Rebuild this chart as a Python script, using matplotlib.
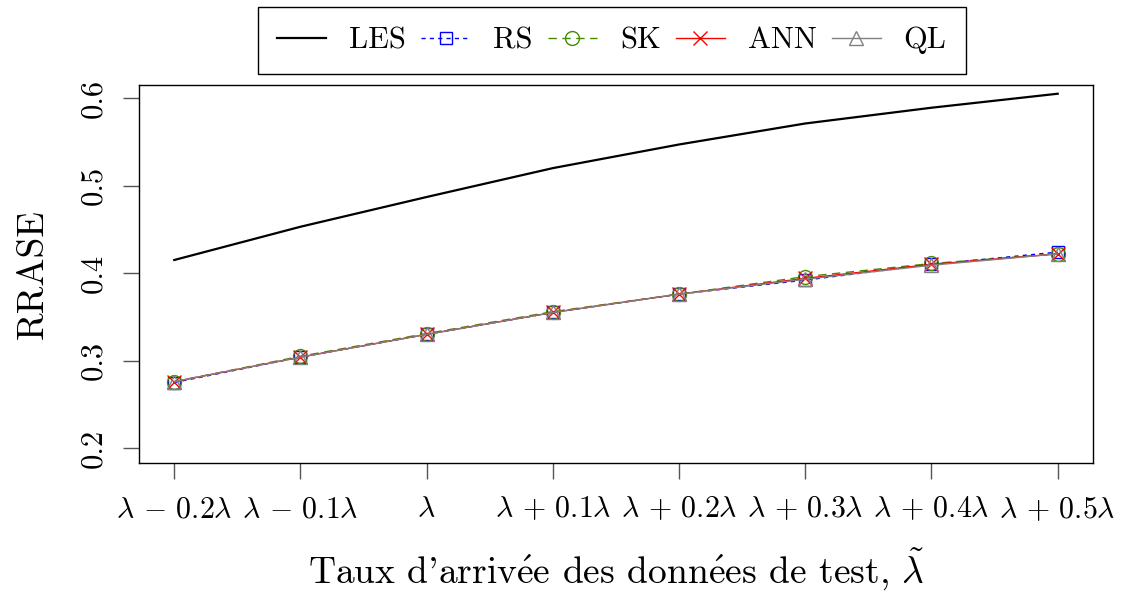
import matplotlib
matplotlib.use("Agg")
import matplotlib.pyplot as plt
import numpy as np

plt.rcParams['font.family'] = ['cmr10', 'DejaVu Serif']
plt.rcParams['mathtext.fontset'] = 'cm'
plt.rcParams['axes.formatter.use_mathtext'] = True

# data
x_labels = [r"$\lambda\,-\,0.2\lambda$", r"$\lambda\,-\,0.1\lambda$", r"$\lambda$",
            r"$\lambda\,+\,0.1\lambda$", r"$\lambda\,+\,0.2\lambda$", r"$\lambda\,+\,0.3\lambda$",
            r"$\lambda\,+\,0.4\lambda$", r"$\lambda\,+\,0.5\lambda$"]
les = [0.415, 0.453, 0.487, 0.520, 0.547, 0.571, 0.589, 0.605]
rs = [0.275, 0.304, 0.330, 0.355, 0.376, 0.392, 0.410, 0.424]
sk = [0.276, 0.305, 0.331, 0.356, 0.376, 0.396, 0.411, 0.422]
ann = [0.276, 0.304, 0.330, 0.355, 0.376, 0.394, 0.410, 0.422]
ql = [0.276, 0.304, 0.330, 0.355, 0.376, 0.393, 0.409, 0.422]

x = np.arange(1, len(x_labels) + 1)

fig = plt.figure(figsize=(11.26, 5.93), dpi=100)
ax = fig.add_axes([0.1234, 0.2192, 0.8473, 0.6375])

ax.plot(x, les, color='black', lw=1.6, label='LES')
ax.plot(x, rs, color='blue', lw=1.0, ls=(0, (3, 3)), marker='s', ms=9,
        mfc='none', mec='blue', mew=1.0, label='RS')
ax.plot(x, sk, color='#458B00', lw=1.0, ls=(0, (6, 4)), marker='o', ms=10,
        mfc='none', mec='#458B00', mew=1.0, label='SK')
ax.plot(x, ann, color='red', lw=1.0, marker='x', ms=10, mew=1.0, label='ANN')
ax.plot(x, ql, color='grey', lw=1.0, marker='^', ms=10, mfc='none',
        mec='grey', mew=1.0, label='QL')

ax.set_xlim(0.72, 8.28)
ax.set_ylim(0.183, 0.615)
ax.set_xticks(x)
ax.set_xticklabels(x_labels, fontsize=21.5)
ax.set_yticks([0.2, 0.3, 0.4, 0.5, 0.6])
ax.set_yticklabels(['0.2', '0.3', '0.4', '0.5', '0.6'], fontsize=22,
                   rotation=90, va='center')
ax.tick_params(axis='both', direction='out', length=11.5, width=1.0,
               color='#555555')
ax.tick_params(axis='y', pad=11)
ax.tick_params(axis='x', pad=12)
for s in ax.spines.values():
    s.set_linewidth(1.0)

ax.set_ylabel('RRASE', fontsize=27, labelpad=22)
ax.set_xlabel(r"Taux d'arriv$\acute{\rm e}$e des donn$\acute{\rm e}$es de test, $\tilde{\lambda}$",
              fontsize=27, labelpad=16)

fig.legend(loc='upper center', bbox_to_anchor=(0.5435, 0.988), ncol=5,
           fontsize=22, frameon=True, fancybox=False, edgecolor='black',
           framealpha=1, handlelength=1.6, columnspacing=0.5,
           handletextpad=0.75, borderpad=0.65, borderaxespad=0.0)

fig.savefig('out.png', dpi=100)
